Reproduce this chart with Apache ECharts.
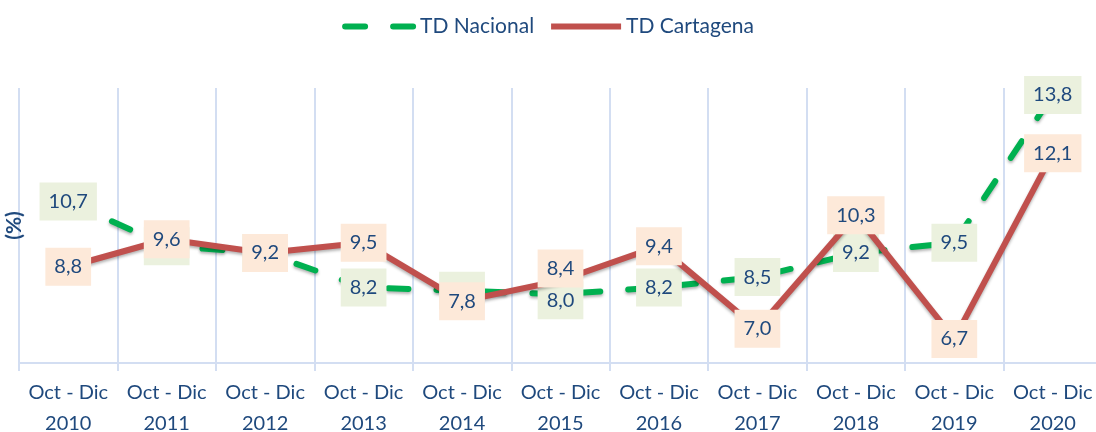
<!DOCTYPE html>
<html>
<head>
<meta charset="utf-8">
<script src="https://cdn.jsdelivr.net/npm/echarts@6/dist/echarts.min.js"></script>
<style>
  html, body { margin: 0; padding: 0; background: #fff; }
  #chart { width: 1096px; height: 432px; }
</style>
</head>
<body>
<div id="chart"></div>
<script>
const periods = ['Oct - Dic\n2010', 'Oct - Dic\n2011', 'Oct - Dic\n2012', 'Oct - Dic\n2013', 'Oct - Dic\n2014',
  'Oct - Dic\n2015', 'Oct - Dic\n2016', 'Oct - Dic\n2017', 'Oct - Dic\n2018', 'Oct - Dic\n2019', 'Oct - Dic\n2020']
const tdNacional = [10.7, 9.4, 9.2, 8.2, 8.1, 8.0, 8.2, 8.5, 9.2, 9.5, 13.8]
const tdCartagena = [8.8, 9.6, 9.2, 9.5, 7.8, 8.4, 9.4, 7.0, 10.3, 6.7, 12.1]

const textColor = '#1f497d'
const gridColor = '#d3def2'
const font = 'Lato'

// labels that were nudged apart in the original (pixel offsets)
const nacionalShift = { 5: [0, 6] }
const cartagenaShift = { 5: [0, -12] }

function label (bg) {
  return {
    show: true,
    position: 'inside',
    color: textColor,
    fontFamily: font,
    fontSize: 20,
    lineHeight: 20,
    backgroundColor: bg,
    padding: [9, 9, 9, 9],
    formatter: p => p.value.toFixed(1).replace('.', ',')
  }
}

function points (values, shift) {
  return values.map((v, i) => shift[i] ? { value: v, label: { offset: shift[i] } } : v)
}

const chart = echarts.init(document.getElementById('chart'))
chart.setOption({
  animation: false,
  legend: {
    top: 11,
    left: 'center',
    itemWidth: 70,
    itemHeight: 14,
    itemGap: 14,
    itemStyle: { opacity: 0 },
    lineStyle: { width: 6 },
    textStyle: { color: textColor, fontFamily: font, fontSize: 21 }
  },
  grid: { left: 19, right: -6, top: 88, bottom: 69, outerBoundsMode: 'none' },
  xAxis: {
    type: 'category',
    data: periods,
    boundaryGap: true,
    axisLine: { lineStyle: { color: gridColor, width: 2 } },
    axisTick: { show: true, length: 8, lineStyle: { color: gridColor, width: 2 } },
    splitLine: { show: true, lineStyle: { color: gridColor, width: 2 } },
    axisLabel: {
      color: textColor,
      fontFamily: font,
      fontSize: 20,
      lineHeight: 31,
      margin: 14,
      interval: 0
    }
  },
  yAxis: {
    type: 'value',
    min: 6,
    max: 14,
    name: '(%)',
    nameLocation: 'middle',
    nameRotate: 90,
    nameGap: -6,
    nameTextStyle: { color: textColor, fontFamily: font, fontSize: 21, fontWeight: 'bold' },
    axisLine: { show: false },
    axisTick: { show: false },
    axisLabel: { show: false },
    splitLine: { show: false }
  },
  series: [
    {
      name: 'TD Nacional',
      type: 'line',
      data: points(tdNacional, nacionalShift),
      symbol: 'circle',
      symbolSize: 0.1,
      itemStyle: { color: '#00b050' },
      lineStyle: {
        color: '#00b050',
        width: 6,
        type: [20, 28],
        cap: 'round',
        shadowColor: 'rgba(0,0,0,0.3)',
        shadowBlur: 3,
        shadowOffsetY: 2
      },
      label: label('#ebf1de'),
      z: 2
    },
    {
      name: 'TD Cartagena',
      type: 'line',
      data: points(tdCartagena, cartagenaShift),
      symbol: 'circle',
      symbolSize: 0.1,
      itemStyle: { color: '#c0504d' },
      lineStyle: {
        color: '#c0504d',
        width: 6,
        shadowColor: 'rgba(0,0,0,0.3)',
        shadowBlur: 3,
        shadowOffsetY: 2
      },
      label: label('#fde9d9'),
      z: 3
    }
  ]
})
</script>
</body>
</html>
